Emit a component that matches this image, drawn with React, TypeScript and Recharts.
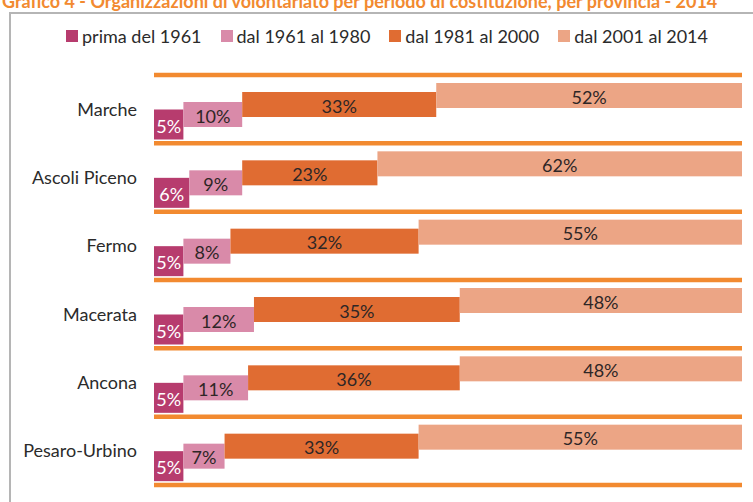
import React from 'react';
import { BarChart, Bar, XAxis, YAxis, ReferenceLine, LabelList } from 'recharts';

const province = ['Marche', 'Ascoli Piceno', 'Fermo', 'Macerata', 'Ancona', 'Pesaro-Urbino'];
const periodi = ['prima del 1961', 'dal 1961 al 1980', 'dal 1981 al 2000', 'dal 2001 al 2014'];
const prima1961 = [5, 6, 5, 5, 5, 5];
const dal1961 = [10, 9, 8, 12, 11, 7];
const dal1981 = [33, 23, 32, 35, 36, 33];
const dal2001 = [52, 62, 55, 48, 48, 55];

const colori = ['#b73c6e', '#d98aa9', '#e06c32', '#eca585'];
// vertical shift (from band centre) and thickness of each step
const spostamenti = [15, 5, -5, -14];
const spessori = [30, 25, 25, 25];
const FONT = 'Lato, "Liberation Sans", sans-serif';

const data = province.map((p, i) => ({
  provincia: p,
  s0: prima1961[i],
  s1: dal1961[i],
  s2: dal1981[i],
  s3: dal2001[i],
}));

function stepShape(k: number) {
  return (props: any) => {
    const { x, y, width, height } = props;
    const c = y + height / 2 + spostamenti[k];
    const h = spessori[k];
    return <rect x={x} y={c - h / 2} width={width} height={h} fill={colori[k]} />;
  };
}

function stepLabel(k: number) {
  return (props: any) => {
    const { x, y, width, height, value } = props;
    const c = Number(y) + Number(height) / 2 + spostamenti[k];
    return (
      <text
        x={Number(x) + Number(width) / 2}
        y={c + 1}
        textAnchor='middle'
        dominantBaseline='central'
        fontSize={18}
        fontFamily={FONT}
        fill={k === 0 ? '#ffffff' : '#2e2626'}
      >
        {value + '%'}
      </text>
    );
  };
}

export default function App() {
  return (
    <div style={{ position: 'absolute', left: 0, top: 0, width: 753, height: 502, overflow: 'hidden', background: '#fff', fontFamily: FONT }}>
      <div style={{ position: 'absolute', left: 2, top: -10, fontSize: 18, fontWeight: 700, color: '#f28a30', whiteSpace: 'nowrap' }}>
        Grafico 4 - Organizzazioni di volontariato per periodo di costituzione, per provincia - 2014
      </div>
      <div style={{ position: 'absolute', left: 9, top: 12, width: 800, height: 600, borderLeft: '2px solid #b5b5b5', borderTop: '2px solid #b5b5b5' }} />
      <div style={{ position: 'absolute', left: 66, top: 25, display: 'flex', alignItems: 'center', fontSize: 18, color: '#2b2b2b', whiteSpace: 'nowrap' }}>
        {periodi.map((p, k) => (
          <div key={p} style={{ display: 'flex', alignItems: 'center', marginRight: 19 }}>
            <span style={{ display: 'inline-block', width: 12, height: 12, background: colori[k], marginRight: 4 }} />
            <span>{p}</span>
          </div>
        ))}
      </div>
      <div style={{ position: 'absolute', left: 0, top: 0 }}>
        <BarChart width={753} height={502} data={data} layout='vertical' margin={{ top: 75, right: 11, bottom: 17, left: 0 }} barSize={25}>
          <XAxis type='number' domain={[0, 100]} hide />
          <YAxis
            type='category'
            dataKey='provincia'
            width={154}
            axisLine={false}
            tickLine={false}
            tickSize={0}
            tickMargin={17}
            tick={{ fontSize: 18, fill: '#2b2b2b', fontFamily: FONT }}
          />
          {['s0', 's1', 's2', 's3'].map((key, k) => (
            <Bar key={key} dataKey={key} stackId='a' fill={colori[k]} shape={stepShape(k)} isAnimationActive={false}>
              <LabelList dataKey={key} content={stepLabel(k)} />
            </Bar>
          ))}
          {province.map((p) => (
            <ReferenceLine key={p} y={p} position='start' stroke='#f28a30' strokeWidth={4.5} />
          ))}
          <ReferenceLine y={province[province.length - 1]} position='end' stroke='#f28a30' strokeWidth={4.5} />
        </BarChart>
      </div>
    </div>
  );
}
